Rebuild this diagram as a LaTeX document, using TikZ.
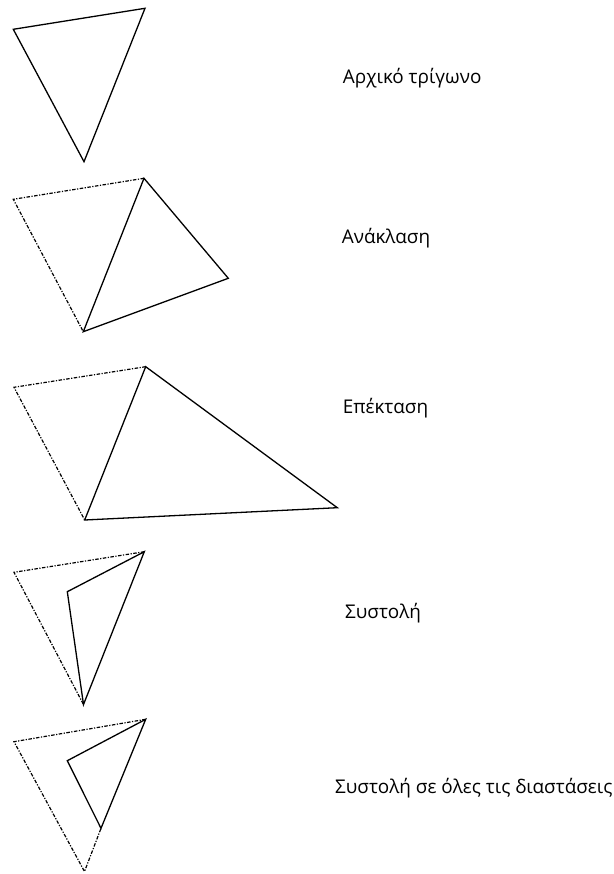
\documentclass[tikz,border=0pt]{standalone}
\usepackage{fontspec}
\setmainfont{Open Sans}
\begin{document}
\begin{tikzpicture}[x=1pt,y=-1pt,
  solidedge/.style={line width=1.3pt,line join=miter},
  dashedge/.style={line width=1.2pt,dash pattern=on 3.5pt off 1.5pt on 1.2pt off 1.5pt},
  label/.style={anchor=base west,inner sep=0pt,font=\fontsize{18.9}{22}\selectfont,text=black}]
\useasboundingbox (0,0) rectangle (613,874);
% triangle 1
\coordinate (a1) at (13.3,29.3);
\coordinate (b1) at (145,8.3);
\coordinate (c1) at (84,161.7);
\draw[solidedge] (a1) -- (b1) -- (c1) -- cycle;
\node[label] (t1) at (342.7,83.3) {Αρχικό τρίγωνο};
% triangle 2
\coordinate (a2) at (13.3,199.3);
\coordinate (b2) at (144,178.3);
\coordinate (c2) at (83.3,331.7);
\coordinate (r2) at (228.3,278.3);
\draw[dashedge] (b2) -- (a2) -- (c2);
\draw[solidedge] (b2) -- (r2) -- (c2) -- cycle;
\node[label] (t2) at (341.7,243.3) {Ανάκλαση};
% triangle 3
\coordinate (a3) at (14,387.3);
\coordinate (b3) at (145.7,366.7);
\coordinate (c3) at (84.7,520);
\coordinate (e3) at (337.3,507.7);
\draw[dashedge] (b3) -- (a3) -- (c3);
\draw[solidedge] (b3) -- (e3) -- (c3) -- cycle;
\node[label] (t3) at (342.7,413.3) {Επέκταση};
% triangle 4
\coordinate (a4) at (14,572.3);
\coordinate (b4) at (144.3,551.7);
\coordinate (c4) at (83.5,704.5);
\coordinate (i4) at (67.3,591.7);
\draw[dashedge] (b4) -- (a4) -- (c4);
\draw[solidedge] (b4) -- (i4) -- (c4) -- cycle;
\node[label] (t4) at (345,618.3) {Συστολή};
% triangle 5
\coordinate (a5) at (14,741.7);
\coordinate (b5) at (145.7,719.3);
\coordinate (c5) at (84.5,871.5);
\coordinate (i5) at (67.3,760.7);
\coordinate (j5) at (101,828.3);
\draw[dashedge] (b5) -- (a5) -- (c5) -- (j5);
\draw[solidedge] (b5) -- (i5) -- (j5) -- cycle;
\node[label] (t5) at (335,793.3) {Συστολή σε όλες τις διαστάσεις};
\end{tikzpicture}
\end{document}
